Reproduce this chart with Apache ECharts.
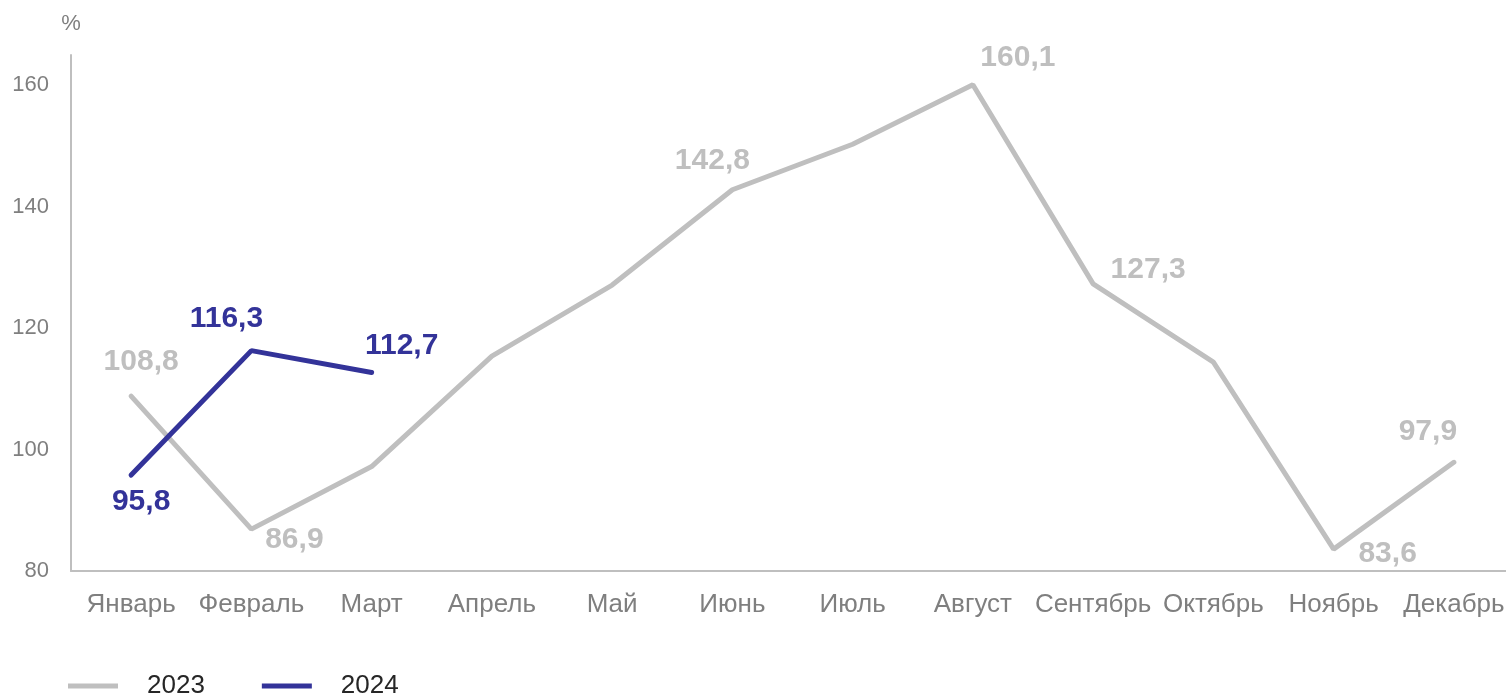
<!DOCTYPE html>
<html><head><meta charset="utf-8">
<script src="https://cdn.jsdelivr.net/npm/echarts@6/dist/echarts.min.js"></script>
<style>html,body{margin:0;padding:0;background:#fff;overflow:hidden;width:1506px;height:694px}#c{width:1514px;height:694px}</style>
</head><body><div id="c"></div>
<script>
const months = ['Январь','Февраль','Март','Апрель','Май','Июнь','Июль','Август','Сентябрь','Октябрь','Ноябрь','Декабрь'];
const values2023 = [108.8, 86.9, 97.2, 115.4, 127.1, 142.8, 150.3, 160.1, 127.3, 114.4, 83.6, 97.9];
const values2024 = [95.8, 116.3, 112.7];
const labeled2023 = [0, 1, 5, 7, 8, 10, 11];
const labeled2024 = [0, 1, 2];
const yTicks = [80, 100, 120, 140, 160];

const off2023 = {0:[10,-34],1:[43,11],5:[-20,-29],7:[45,-27],8:[55,-14],10:[54,5],11:[-26,-31]};
const off2024 = {0:[10,27],1:[-25,-32],2:[30,-27]};
const fmt = v => String(v.toFixed(1)).replace('.', ',');
function build(vals, labeled, offs, color) {
  return vals.map((v, i) => {
    const item = {value: v};
    if (labeled.includes(i)) {
      item.label = {show: true, position: 'inside', offset: offs[i], formatter: fmt(v),
        color: color, fontSize: 30, fontWeight: 'bold', fontFamily: 'Liberation Sans'};
    }
    return item;
  });
}
const chart = echarts.init(document.getElementById('c'));
chart.setOption({
  animation: false,
  grid: {left: 71, right: 0, top: 55, bottom: 123},
  legend: {left: 68, top: 673, padding: 0, itemWidth: 50, itemHeight: 5, itemGap: 57, icon: 'rect',
    textStyle: {fontSize: 26, color: '#262626', fontFamily: 'Liberation Sans', padding: [0,0,0,24]},
    data: ['2023', '2024']},
  xAxis: {type: 'category', data: months, boundaryGap: true,
    axisLine: {lineStyle: {color: '#bfbfbf', width: 2}}, axisTick: {show: false},
    axisLabel: {color: '#7f7f7f', fontSize: 26, margin: 21, fontFamily: 'Liberation Sans', interval: 0}},
  yAxis: {type: 'value', min: yTicks[0], max: 165, interval: 20, name: '%',
    nameLocation: 'end', nameGap: 20,
    nameTextStyle: {color: '#7f7f7f', fontSize: 22, fontFamily: 'Liberation Sans', align: 'center'},
    axisLine: {show: true, lineStyle: {color: '#bfbfbf', width: 2}}, axisTick: {show: false},
    splitLine: {show: false},
    axisLabel: {color: '#7f7f7f', fontSize: 22, margin: 22, fontFamily: 'Liberation Sans', showMaxLabel: false}},
  series: [
    {name: '2023', type: 'line', data: build(values2023, labeled2023, off2023, '#bfbfbf'),
      symbol: 'circle', symbolSize: 0, color: '#bfbfbf',
      lineStyle: {color: '#bfbfbf', width: 5, cap: 'round'}, itemStyle: {color: '#bfbfbf'}},
    {name: '2024', type: 'line', data: build(values2024, labeled2024, off2024, '#333399'),
      symbol: 'circle', symbolSize: 0, color: '#333399', z: 3,
      lineStyle: {color: '#333399', width: 5, cap: 'round'}, itemStyle: {color: '#333399'}}
  ]
});
</script></body></html>
